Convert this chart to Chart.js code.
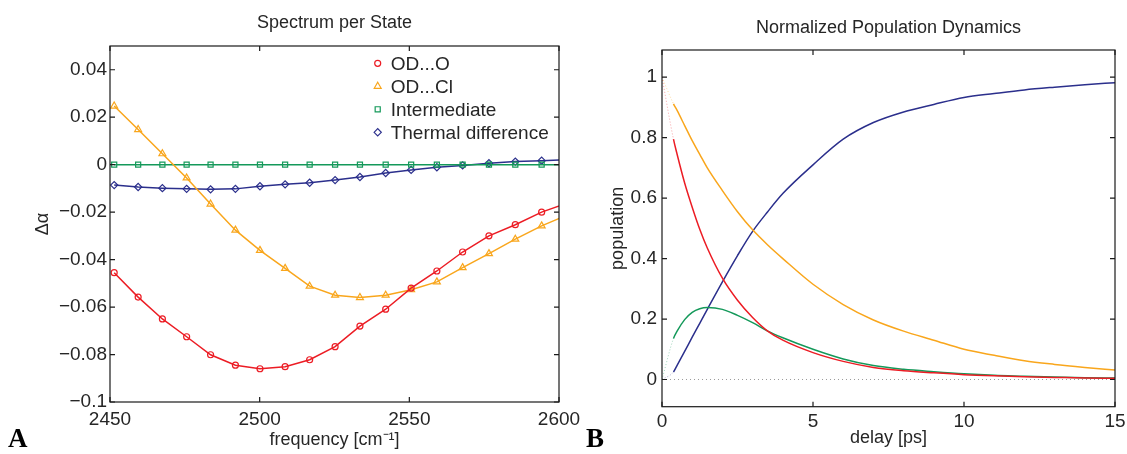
<!DOCTYPE html>
<html>
<head>
<meta charset="utf-8">
<script src="https://cdn.jsdelivr.net/npm/chart.js@4.4.1/dist/chart.umd.min.js"></script>
<style>
  html, body { margin: 0; padding: 0; background: #fff; overflow: hidden; }
  #wrap { position: relative; width: 1127px; height: 454px; }
  #spec { position: absolute; left: 0; top: 0; }
  #pop { position: absolute; left: 570px; top: 0; }
</style>
</head>
<body>
<div id="wrap">
  <canvas id="spec" width="600" height="454"></canvas>
  <canvas id="pop" width="557" height="454"></canvas>
</div>
<script>
/* Two-panel figure: spectra per state (A) and population dynamics (B) */

// ── Data: panel A ────────────────────────────────────────────────────────
const specFreq = [2451.4, 2459.4, 2467.5, 2475.6, 2483.6, 2491.9, 2500.1, 2508.5, 2516.7, 2525.2,
                  2533.5, 2542.1, 2550.6, 2559.2, 2567.8, 2576.6, 2585.4, 2594.2, 2603.1];
const specOdO = [-0.0455, -0.0558, -0.065, -0.0725, -0.0801, -0.0845, -0.086, -0.0851, -0.0822, -0.0767,
                 -0.068, -0.0609, -0.052, -0.0448, -0.0368, -0.030, -0.0253, -0.020, -0.016];
const specOdCl = [0.0247, 0.0148, 0.0046, -0.0056, -0.0166, -0.0276, -0.0361, -0.0437, -0.0512, -0.055,
                  -0.056, -0.055, -0.0527, -0.0494, -0.0434, -0.0375, -0.0314, -0.0258, -0.021];
const specInter = [0, 0, 0, 0, 0, 0, 0, 0, 0, 0, 0, 0, 0, 0, 0, 0, 0, 0, 0];
const specThermal = [-0.0086, -0.0094, -0.0099, -0.0102, -0.0104, -0.0102, -0.0091, -0.0083, -0.0076, -0.0065,
                     -0.0052, -0.0035, -0.0022, -0.0011, -0.0003, 0.0006, 0.0013, 0.0017, 0.0021];
const specXTicks = [2450, 2500, 2550, 2600];
const specYTicks = [-0.1, -0.08, -0.06, -0.04, -0.02, 0, 0.02, 0.04];

// ── Data: panel B ────────────────────────────────────────────────────────
const popT = [0, 0.38, 0.5, 0.75, 1, 1.25, 1.5, 2, 2.5, 3, 3.5, 4, 5, 6, 7, 8, 9, 10, 11, 12, 13, 14, 15];
const popOdO = [1, 0.795, 0.745, 0.65, 0.57, 0.497, 0.435, 0.335, 0.262, 0.205, 0.16, 0.13, 0.089, 0.06,
                0.04, 0.029, 0.022, 0.016, 0.012, 0.009, 0.007, 0.005, 0.004];
const popOdCl = [1, 0.912, 0.89, 0.84, 0.79, 0.745, 0.70, 0.625, 0.555, 0.495, 0.445, 0.40, 0.315, 0.248,
                 0.197, 0.16, 0.13, 0.1, 0.08, 0.062, 0.05, 0.04, 0.031];
const popInter = [0, 0.136, 0.16, 0.198, 0.222, 0.234, 0.238, 0.232, 0.212, 0.188, 0.16, 0.138, 0.1, 0.068,
                  0.046, 0.034, 0.026, 0.019, 0.014, 0.011, 0.008, 0.006, 0.005];
const popThermal = [0, 0.025, 0.047, 0.093, 0.14, 0.186, 0.232, 0.323, 0.41, 0.49, 0.555, 0.615, 0.71, 0.795,
                    0.85, 0.885, 0.91, 0.933, 0.946, 0.958, 0.967, 0.975, 0.982];
const popZero = [0, 0];
const popZeroT = [0, 15];
const popXTicks = [0, 5, 10, 15];
const popYTicks = [0, 0.2, 0.4, 0.6, 0.8, 1];

const seriesLabels = ["OD...O", "OD...Cl", "Intermediate", "Thermal difference"];

// ── Styling ──────────────────────────────────────────────────────────────
const FONT = "'Liberation Sans', Arial, Helvetica, sans-serif";
const TXT = "#262626";
const RED = "#ec1c24";
const ORANGE = "#f9a61c";
const GREEN = "#14995a";
const NAVY = "#2b2f8c";
const TICK_FONT = { size: 19, family: FONT };
const LABEL_FONT = { size: 18, family: FONT };
const NO_GRID = { display: false, drawTicks: false };

const pts = (xs, ys) => xs.map((x, i) => ({ x, y: ys[i] }));
const fmt = (v) => (v === 0 ? "0" : (v < 0 ? "\u2212" : "") + String(Math.abs(v)));

// frame + inward tick marks + panel letter
const framePlugin = {
  id: "frame",
  afterDatasetsDraw(chart, args, opts) {
    const { ctx, chartArea: a } = chart;
    const x = chart.scales.x, y = chart.scales.y;
    const L = 5;
    ctx.save();
    ctx.strokeStyle = "#1a1a1a";
    ctx.lineWidth = 1.2;
    ctx.strokeRect(a.left, a.top, a.right - a.left, a.bottom - a.top);
    ctx.beginPath();
    x.ticks.forEach((t) => {
      const px = x.getPixelForValue(t.value);
      ctx.moveTo(px, a.bottom); ctx.lineTo(px, a.bottom - L);
      ctx.moveTo(px, a.top); ctx.lineTo(px, a.top + L);
    });
    y.ticks.forEach((t) => {
      const py = y.getPixelForValue(t.value);
      ctx.moveTo(a.left, py); ctx.lineTo(a.left + L, py);
      ctx.moveTo(a.right, py); ctx.lineTo(a.right - L, py);
    });
    ctx.stroke();
    ctx.fillStyle = "#000";
    ctx.font = "bold 27px 'Liberation Serif', 'DejaVu Serif', serif";
    ctx.textBaseline = "alphabetic";
    ctx.fillText(opts.letter, opts.lx, opts.ly);
    ctx.restore();
  },
};

// marker-only legend inside panel A
const markerLegend = {
  id: "markerLegend",
  afterDraw(chart, args, opts) {
    if (!opts.show) return;
    const ctx = chart.ctx;
    ctx.save();
    ctx.font = "19px " + FONT;
    ctx.textBaseline = "middle";
    chart.data.datasets.forEach((ds, i) => {
      const yy = opts.y0 + i * opts.dy;
      ctx.strokeStyle = ds.borderColor;
      ctx.fillStyle = "rgba(0,0,0,0)";
      ctx.lineWidth = ds.pointBorderWidth;
      Chart.helpers.drawPoint(ctx, {
        pointStyle: ds.pointStyle, radius: ds.pointRadius, rotation: 0, borderWidth: ds.pointBorderWidth,
      }, opts.mx, yy);
      ctx.fillStyle = TXT;
      ctx.fillText(ds.label, opts.tx, yy + 1);
    });
    ctx.restore();
  },
};

function ticksFrom(list) {
  return (scale) => { scale.ticks = list.map((v) => ({ value: v })); };
}

// ── Panel A ──────────────────────────────────────────────────────────────
function specSet(label, ys, color, style, r) {
  return {
    label, data: pts(specFreq, ys), borderColor: color, borderWidth: 1.5,
    pointStyle: style, pointRadius: r, pointBorderWidth: 1.2,
    pointBorderColor: color, pointBackgroundColor: "rgba(0,0,0,0)", tension: 0,
  };
}

new Chart(document.getElementById("spec"), {
  type: "line",
  data: {
    datasets: [
      specSet(seriesLabels[0], specOdO, RED, "circle", 3),
      specSet(seriesLabels[1], specOdCl, ORANGE, "triangle", 4),
      specSet(seriesLabels[2], specInter, GREEN, "rect", 3.6),
      specSet(seriesLabels[3], specThermal, NAVY, "rectRot", 3.6),
    ],
  },
  options: {
    responsive: false, animation: false,
    layout: { padding: { left: 0, right: 41, top: 0, bottom: 0 } },
    plugins: {
      legend: { display: false },
      tooltip: { enabled: false },
      title: {
        display: true, text: "Spectrum per State", fullSize: false, color: TXT,
        font: { size: 18, family: FONT, weight: "normal" }, padding: { top: 12.7, bottom: 11.7 },
      },
      frame: { letter: "A", lx: 8, ly: 447 },
      markerLegend: { show: true, mx: 377.7, tx: 390.7, y0: 63.3, dy: 23 },
    },
    scales: {
      x: {
        type: "linear", min: 2450, max: 2600,
        grid: NO_GRID, border: { display: false },
        afterBuildTicks: ticksFrom(specXTicks),
        ticks: { padding: 6, color: TXT, font: TICK_FONT, maxRotation: 0, autoSkip: false, callback: (v) => String(v) },
        afterFit: (s) => { s.height = 52; s.paddingLeft = 0; s.paddingRight = 0; },
        title: { display: true, text: "frequency [cm\u207B\u00B9]", color: TXT, font: LABEL_FONT, padding: { top: 0, bottom: 3 } },
      },
      y: {
        min: -0.1, max: 0.05,
        grid: NO_GRID, border: { display: false },
        afterBuildTicks: ticksFrom(specYTicks),
        ticks: { padding: 3, color: TXT, font: TICK_FONT, callback: (v) => fmt(v), autoSkip: false },
        afterFit: (s) => { s.width = 110; },
        title: { display: true, text: "\u0394\u03B1", color: TXT, font: LABEL_FONT, padding: { top: 32.2, bottom: 0 } },
      },
    },
  },
  plugins: [framePlugin, markerLegend],
});

// ── Panel B ──────────────────────────────────────────────────────────────
function popSet(label, ys, color) {
  const faded = color + "66";
  return {
    label, data: pts(popT, ys), borderColor: color, borderWidth: 1.5, pointRadius: 0,
    cubicInterpolationMode: "monotone",
    segment: {
      borderColor: (c) => (c.p0.parsed.x === 0 ? faded : undefined),
      borderDash: (c) => (c.p0.parsed.x === 0 ? [1, 2] : undefined),
      borderWidth: (c) => (c.p0.parsed.x === 0 ? 1 : undefined),
    },
  };
}

new Chart(document.getElementById("pop"), {
  type: "line",
  data: {
    datasets: [
      {
        label: "zero", data: pts(popZeroT, popZero), borderColor: "#9a9a9a", borderWidth: 1,
        borderDash: [1, 3], pointRadius: 0,
      },
      popSet(seriesLabels[0], popOdO, RED),
      popSet(seriesLabels[1], popOdCl, ORANGE),
      popSet(seriesLabels[2], popInter, GREEN),
      popSet(seriesLabels[3], popThermal, NAVY),
    ],
  },
  options: {
    responsive: false, animation: false,
    layout: { padding: { left: 0, right: 12, top: 0, bottom: 0 } },
    plugins: {
      legend: { display: false },
      tooltip: { enabled: false },
      title: {
        display: true, text: "Normalized Population Dynamics", fullSize: false, color: TXT,
        font: { size: 18, family: FONT, weight: "normal" }, padding: { top: 17.2, bottom: 11.2 },
      },
      frame: { letter: "B", lx: 16, ly: 447 },
      markerLegend: { show: false },
    },
    scales: {
      x: {
        type: "linear", min: 0, max: 15,
        grid: NO_GRID, border: { display: false },
        afterBuildTicks: ticksFrom(popXTicks),
        ticks: { padding: 4, color: TXT, font: TICK_FONT, maxRotation: 0, autoSkip: false, callback: (v) => String(v) },
        afterFit: (s) => { s.height = 47.3; s.paddingLeft = 0; s.paddingRight = 0; },
        title: { display: true, text: "delay [ps]", color: TXT, font: LABEL_FONT, padding: { top: 0, bottom: 5 } },
      },
      y: {
        min: -0.09, max: 1.09,
        grid: NO_GRID, border: { display: false },
        afterBuildTicks: ticksFrom(popYTicks),
        ticks: { padding: 5, color: TXT, font: TICK_FONT, callback: (v) => fmt(v), autoSkip: false },
        afterFit: (s) => { s.width = 92; },
        title: { display: true, text: "population", color: TXT, font: LABEL_FONT, padding: { top: 37.2, bottom: 0 } },
      },
    },
  },
  plugins: [framePlugin, markerLegend],
});
</script>
</body>
</html>
